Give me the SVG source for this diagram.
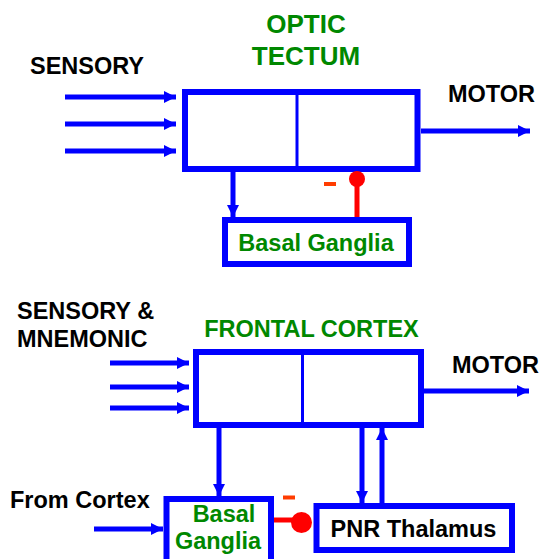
<svg xmlns="http://www.w3.org/2000/svg" width="540" height="559" viewBox="0 0 540 559">
<style>
text{font-family:"Liberation Sans",Arial,sans-serif;font-weight:bold;}
.lbl{font-size:23.5px;fill:#000;}
.grn{fill:#008800;}
.box{fill:#fff;stroke:#0000ff;stroke-width:6;}
.div{stroke:#0000ff;stroke-width:3;}
.arr{stroke:#0000ff;stroke-width:5;fill:none;marker-end:url(#ah);}
.inh{stroke:#ff0000;stroke-width:5;}
.minus{stroke:#ff3c00;stroke-width:4;}
</style>
<defs>
<marker id="ah" markerUnits="userSpaceOnUse" markerWidth="12" markerHeight="12" refX="12" refY="6" orient="auto">
<path d="M0,0 L12,6 L0,12 z" fill="#0000ff"/>
</marker>
</defs>
<rect width="540" height="559" fill="#fff"/>

<g id="labels">
<text class="lbl" x="30" y="74">SENSORY</text>
<text class="lbl" x="448" y="102">MOTOR</text>
<text class="lbl" x="17" y="319">SENSORY &amp;</text>
<text class="lbl" x="17" y="347">MNEMONIC</text>
<text class="lbl" x="452" y="373">MOTOR</text>
<text class="lbl" x="10" y="508">From Cortex</text>
</g>

<g id="optic-tectum">
<text class="grn" x="306" y="33" font-size="26" text-anchor="middle">OPTIC</text>
<text class="grn" x="306" y="65" font-size="26" text-anchor="middle">TECTUM</text>
<rect class="box" x="185" y="92" width="232.5" height="77"/>
<line class="div" x1="297" y1="95" x2="297" y2="166"/>
</g>

<g id="basal-ganglia-top">
<rect class="box" x="225" y="220" width="184" height="44"/>
<text class="grn" x="316" y="251" font-size="23.5" text-anchor="middle">Basal Ganglia</text>
</g>

<g id="frontal-cortex">
<text class="grn" x="311.5" y="337" font-size="23.5" text-anchor="middle">FRONTAL CORTEX</text>
<rect class="box" x="196" y="352" width="225" height="73"/>
<line class="div" x1="302.5" y1="355" x2="302.5" y2="422"/>
</g>

<g id="basal-ganglia-bottom">
<rect class="box" x="166.5" y="499" width="104.5" height="70"/>
<text class="grn" x="224" y="522" font-size="23.5" text-anchor="middle">Basal</text>
<text class="grn" x="218" y="549" font-size="23.5" text-anchor="middle">Ganglia</text>
</g>

<g id="pnr-thalamus">
<rect class="box" x="316.5" y="506" width="195.5" height="44"/>
<text class="lbl" x="413.5" y="537" text-anchor="middle">PNR Thalamus</text>
</g>

<g id="connectors">
<line class="arr" x1="65" y1="97" x2="176" y2="97"/>
<line class="arr" x1="65" y1="124" x2="176" y2="124"/>
<line class="arr" x1="65" y1="151" x2="176" y2="151"/>
<line class="arr" x1="421" y1="131" x2="530" y2="131"/>
<line class="arr" x1="233" y1="172" x2="233" y2="217"/>
<line class="inh" x1="357" y1="179" x2="357" y2="217"/>
<circle cx="357" cy="179" r="8" fill="#ff0000"/>
<line class="minus" x1="324" y1="184" x2="336" y2="184"/>

<line class="arr" x1="110" y1="363" x2="189" y2="363"/>
<line class="arr" x1="110" y1="387" x2="189" y2="387"/>
<line class="arr" x1="110" y1="408" x2="189" y2="408"/>
<line class="arr" x1="424" y1="391" x2="529" y2="391"/>
<line class="arr" x1="219" y1="428" x2="219" y2="496"/>
<line class="arr" x1="362" y1="428" x2="362" y2="503"/>
<line class="arr" x1="382" y1="503" x2="382" y2="428"/>
<line class="arr" x1="94" y1="529" x2="163" y2="529"/>
<line class="inh" x1="274" y1="520" x2="296" y2="520"/>
<circle cx="301.5" cy="522.5" r="10.5" fill="#ff0000"/>
<line class="minus" x1="283" y1="497.5" x2="295" y2="497.5"/>
</g>
</svg>
